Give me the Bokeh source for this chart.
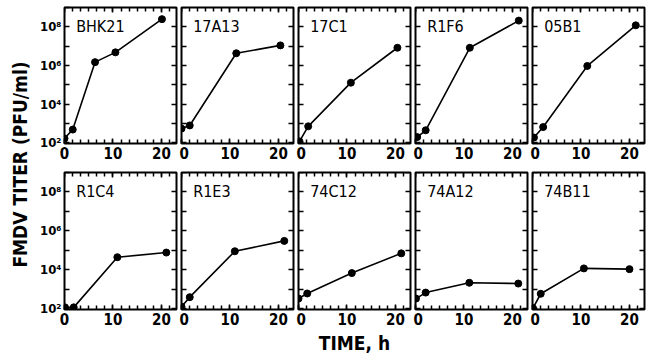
from bokeh.plotting import figure
from bokeh.layouts import row, column
from bokeh.models import (LinearAxis, LogAxis, FixedTicker, SingleIntervalTicker,
                          CustomJSTickFormatter, Label, Range1d)
from bokeh.embed import file_html
from bokeh.resources import INLINE

FONT = "DejaVu Sans Condensed"

# ---------------- data ----------------
cell_lines = ["BHK21", "17A13", "17C1", "R1F6", "05B1",
              "R1C4", "R1E3", "74C12", "74A12", "74B11"]

bhk21_h = [0, 1.7, 6.3, 10.5, 20.1]
bhk21_titer = [1.7e2, 4.9e2, 1.5e6, 4.8e6, 2.5e8]

c17a13_h = [0, 1.7, 11.3, 20.4]
c17a13_titer = [5.5e2, 8.0e2, 4.3e6, 1.1e7]

c17c1_h = [0.2, 2.0, 10.8, 20.4]
c17c1_titer = [1.2e2, 7.2e2, 1.3e5, 8.3e6]

r1f6_h = [0.35, 2.1, 11.2, 21.3]
r1f6_titer = [2.0e2, 4.5e2, 8.3e6, 2.1e8]

c05b1_h = [0.3, 2.2, 11.3, 21.3]
c05b1_titer = [1.9e2, 6.6e2, 9.5e5, 1.2e8]

r1c4_h = [0.1, 1.9, 10.9, 21.0]
r1c4_titer = [1.2e2, 1.2e2, 4.5e4, 7.8e4]

r1e3_h = [0, 1.7, 11.0, 21.2]
r1e3_titer = [1.3e2, 4.0e2, 9.1e4, 3.1e5]

c74c12_h = [0, 1.8, 11.0, 21.2]
c74c12_titer = [3.4e2, 6.2e2, 6.9e3, 7.1e4]

c74a12_h = [0.1, 2.1, 11.1, 21.2]
c74a12_titer = [3.4e2, 6.9e2, 2.2e3, 2.0e3]

c74b11_h = [0.1, 1.7, 10.6, 20.0]
c74b11_titer = [1.1e2, 6.0e2, 1.2e4, 1.1e4]

series_hours = [bhk21_h, c17a13_h, c17c1_h, r1f6_h, c05b1_h,
                r1c4_h, r1e3_h, c74c12_h, c74a12_h, c74b11_h]
series_titers = [bhk21_titer, c17a13_titer, c17c1_titer, r1f6_titer, c05b1_titer,
                 r1c4_titer, r1e3_titer, c74c12_titer, c74a12_titer, c74b11_titer]

y_decades = [1e2, 1e3, 1e4, 1e5, 1e6, 1e7, 1e8, 1e9]
y_label_exponents = [2, 4, 6, 8]
y_labels = ["10\u00b2", "10\u2074", "10\u2076", "10\u2078"]
x_tick_interval = 10

X_START, X_END = 0, 23.1
Y_START, Y_END = 10 ** 1.97, 1e9
LABEL_X, LABEL_Y = 2.4, 1e8

FW = 112
FH = [136, 137]
TOP = [7, 1]
BOTTOM = [28, 48]
YLAB_W = 36
COL1_LEFT = 28


def y_formatter():
    return CustomJSTickFormatter(
        args=dict(exps=y_label_exponents, labels=y_labels),
        code="""
        const e = Math.round(Math.log10(tick));
        const i = exps.indexOf(e);
        return i >= 0 ? labels[i] : "";
        """)


def tick_style(ax, labelled):
    ax.major_tick_in = 5
    ax.major_tick_out = 0
    ax.minor_tick_in = 4
    ax.minor_tick_out = 0
    ax.major_tick_line_width = 1.5
    ax.minor_tick_line_width = 1.5
    ax.axis_line_color = None
    if not labelled:
        ax.major_label_text_color = None


def make_panel(idx):
    r, c = divmod(idx, 5)
    p = figure(frame_width=FW, frame_height=FH[r],
               x_range=Range1d(X_START, X_END), y_range=Range1d(Y_START, Y_END),
               y_axis_type="log", x_axis_location=None, y_axis_location=None,
               output_backend="svg", toolbar_location=None,
               min_border_left=COL1_LEFT if c == 0 else 2,
               min_border_right=3 if c < 4 else 2,
               min_border_top=TOP[r], min_border_bottom=BOTTOM[r])
    p.outline_line_color = "black"
    p.outline_line_width = 2
    p.background_fill_color = "white"
    p.border_fill_color = "white"
    for g in p.grid:
        g.visible = False

    # bottom axis with labels
    xb = LinearAxis(ticker=SingleIntervalTicker(interval=x_tick_interval, num_minor_ticks=6))
    tick_style(xb, True)
    xb.major_label_standoff = 3
    xb.major_label_text_font = FONT
    xb.major_label_text_font_size = "15px"
    xb.major_label_text_font_style = "bold"
    xb.major_label_text_color = "black"
    if idx == 7:
        xb.axis_label = "TIME, h"
        xb.axis_label_text_font = FONT
        xb.axis_label_text_font_size = "19px"
        xb.axis_label_text_font_style = "bold"
        xb.axis_label_text_color = "black"
        xb.axis_label_standoff = 4
    p.add_layout(xb, "below")

    # mirrored top axis (ticks only)
    xt = LinearAxis(ticker=SingleIntervalTicker(interval=x_tick_interval, num_minor_ticks=6),
                    fixed_location=Y_END)
    tick_style(xt, False)
    p.add_layout(xt, "above")

    # left axis
    if c == 0:
        yl = LogAxis(ticker=FixedTicker(ticks=y_decades, minor_ticks=[]), formatter=y_formatter())
        tick_style(yl, True)
        yl.major_label_standoff = 3
        yl.major_label_text_font = FONT
        yl.major_label_text_font_size = "13px"
        yl.major_label_text_font_style = "bold"
        yl.major_label_text_color = "black"
    else:
        yl = LogAxis(ticker=FixedTicker(ticks=y_decades, minor_ticks=[]),
                     formatter=y_formatter(), fixed_location=X_START)
        tick_style(yl, False)
    p.add_layout(yl, "left")

    # mirrored right axis (ticks only)
    yr = LogAxis(ticker=FixedTicker(ticks=y_decades, minor_ticks=[]),
                 formatter=y_formatter(), fixed_location=X_END)
    tick_style(yr, False)
    p.add_layout(yr, "right")

    p.line(series_hours[idx], series_titers[idx], line_color="black", line_width=1.6)
    p.scatter(series_hours[idx], series_titers[idx], size=7, color="black")

    p.add_layout(Label(x=LABEL_X, y=LABEL_Y, text=cell_lines[idx], text_baseline="middle",
                       text_align="left", text_font=FONT, text_font_size="16px",
                       text_color="black"))
    return p


panels = [make_panel(i) for i in range(10)]

total_h = sum(FH) + sum(BOTTOM) + sum(TOP)
ylab = figure(width=YLAB_W, height=total_h,
              title="FMDV TITER (PFU/ml)", title_location="left",
              x_axis_location=None, y_axis_location=None,
              output_backend="svg", toolbar_location=None,
              min_border_left=30, min_border_right=0, min_border_top=0, min_border_bottom=29)
ylab.outline_line_color = None
ylab.title.align = "center"
ylab.title.text_font = FONT
ylab.title.text_font_size = "19px"
ylab.title.text_font_style = "bold"
ylab.title.text_color = "black"
ylab.title.standoff = 0
ylab.title.offset = 0

layout = row(ylab, column(row(*panels[:5]), row(*panels[5:])))

open("out.html", "w").write(file_html(layout, INLINE))
